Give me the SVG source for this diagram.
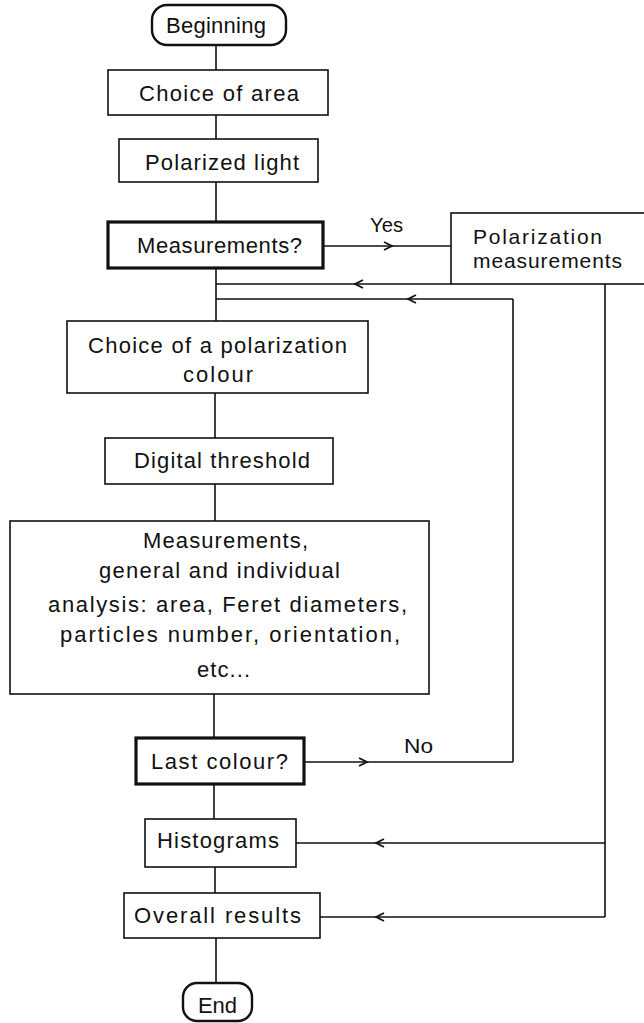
<svg xmlns="http://www.w3.org/2000/svg" xmlns:xlink="http://www.w3.org/1999/xlink" width="644" height="1023" viewBox="0 0 644 1023">
<style>
  .box { fill: #fff; stroke: #111; stroke-width: 1.6; }
  .thick { fill: #fff; stroke: #111; stroke-width: 3.2; }
  .term { fill: #fff; stroke: #111; stroke-width: 2.4; }
  .t { font-family: "Liberation Sans", Arial, sans-serif; font-size: 22px; fill: #111; }
  .ts { font-family: "Liberation Sans", Arial, sans-serif; font-size: 21px; fill: #111; }
  .lbl { font-family: "Liberation Sans", Arial, sans-serif; font-size: 20px; fill: #111; }
  .c { fill: none; stroke: #111; stroke-width: 1.6; }
  .a { fill: none; stroke: #111; stroke-width: 1.6; marker-mid: url(#chev); }
</style>
<defs>
  <marker id="chev" viewBox="-10 -6 12 12" markerWidth="12" markerHeight="12" refX="0" refY="0" orient="auto" markerUnits="userSpaceOnUse">
    <path d="M-8,-4 L0,0 L-8,4" fill="none" stroke="#111" stroke-width="1.8"/>
  </marker>
</defs>

<g id="connectors">
  <path class="c" d="M216,45 L216,70"/>
  <path class="c" d="M216,115 L216,139"/>
  <path class="c" d="M216,182 L216,222"/>
  <path class="c" d="M216,268 L216,321"/>
  <path class="c" d="M215,393 L215,438"/>
  <path class="c" d="M215,484 L215,521"/>
  <path class="c" d="M214,694 L214,738"/>
  <path class="c" d="M214,784 L214,819"/>
  <path class="c" d="M215,867 L215,893"/>
  <path class="c" d="M216,938 L216,983"/>
  <!-- Yes -->
  <path class="a" d="M323,246 L392,246 L451,246"/>
  <!-- Polarization return -->
  <path class="a" d="M451,284 L355,284 L216,284"/>
  <path class="c" d="M605,284 L605,917"/>
  <path class="a" d="M605,843 L376,843 L296,843"/>
  <path class="a" d="M605,917 L376,917 L320,917"/>
  <!-- No loop -->
  <path class="a" d="M304,762 L367,762 L513,762"/>
  <path class="c" d="M513,762 L513,299"/>
  <path class="a" d="M513,299 L408,299 L216,299"/>
  <text class="lbl" x="370" y="232" textLength="33" lengthAdjust="spacingAndGlyphs">Yes</text>
  <text class="lbl" x="404" y="753" textLength="29" lengthAdjust="spacingAndGlyphs">No</text>
</g>

<g id="beginning">
  <rect class="term" x="152" y="5" width="134" height="40" rx="15"/>
  <text class="t" x="166" y="33" textLength="100">Beginning</text>
</g>
<g id="choice-area">
  <rect class="box" x="108" y="70" width="220" height="45"/>
  <text class="t" x="139" y="101" textLength="160">Choice of area</text>
</g>
<g id="polarized-light">
  <rect class="box" x="119" y="139" width="199" height="43"/>
  <text class="t" x="145" y="170" textLength="154">Polarized light</text>
</g>
<g id="measurements-q">
  <rect class="thick" x="108" y="222" width="215" height="46"/>
  <text class="t" x="137" y="253" textLength="165">Measurements?</text>
</g>
<g id="polarization-measurements">
  <rect class="box" x="451" y="213" width="200" height="71"/>
  <text class="ts" x="473" y="244" textLength="129">Polarization</text>
  <text class="ts" x="473" y="268" textLength="149">measurements</text>
</g>
<g id="choice-colour">
  <rect class="box" x="67" y="321" width="301" height="72"/>
  <text class="t" x="88" y="353" textLength="259">Choice of a polarization</text>
  <text class="t" x="183" y="382" textLength="70">colour</text>
</g>
<g id="digital-threshold">
  <rect class="box" x="105" y="438" width="228" height="46"/>
  <text class="t" x="134" y="468" textLength="176">Digital threshold</text>
</g>
<g id="analysis">
  <rect class="box" x="10" y="521" width="419" height="173"/>
  <text class="t" x="143" y="548" textLength="165">Measurements,</text>
  <text class="t" x="99" y="578" textLength="241">general and individual</text>
  <text class="t" x="48" y="612" textLength="359">analysis: area, Feret diameters,</text>
  <text class="t" x="60" y="642" textLength="340">particles number, orientation,</text>
  <text class="t" x="197" y="677" textLength="53">etc...</text>
</g>
<g id="last-colour">
  <rect class="thick" x="136" y="738" width="168" height="46"/>
  <text class="t" x="151" y="769" textLength="137">Last colour?</text>
</g>
<g id="histograms">
  <rect class="box" x="145" y="819" width="151" height="48"/>
  <text class="t" x="157" y="848" textLength="122">Histograms</text>
</g>
<g id="overall-results">
  <rect class="box" x="124" y="893" width="196" height="45"/>
  <text class="t" x="134" y="923" textLength="167">Overall results</text>
</g>
<g id="end">
  <rect class="term" x="183" y="983" width="69" height="38" rx="14"/>
  <text class="t" x="198" y="1013" textLength="39">End</text>
</g>
</svg>
